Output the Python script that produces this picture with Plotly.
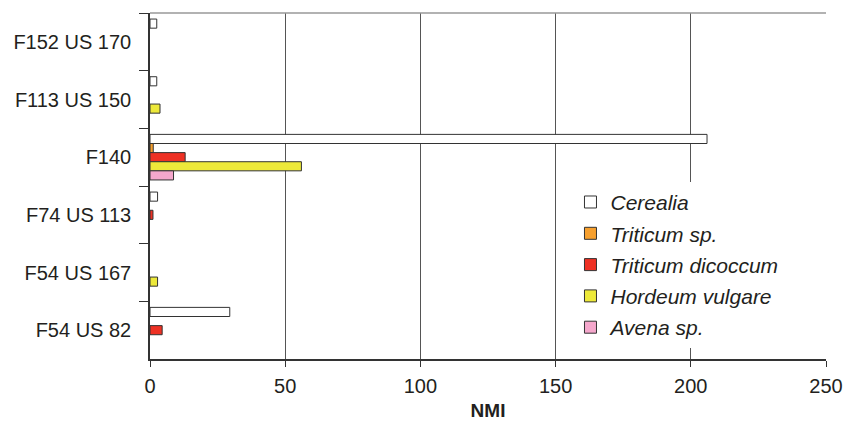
import plotly.graph_objects as go

categories = ["F152 US 170", "F113 US 150", "F140", "F74 US 113", "F54 US 167", "F54 US 82"]
series_names = ["Cerealia", "Triticum sp.", "Triticum dicoccum", "Hordeum vulgare", "Avena sp."]
cerealia = [2.5, 2.5, 206, 2.8, None, 29.5]
triticum_sp = [None, None, 1.2, None, None, None]
triticum_dicoccum = [None, None, 13, 1.1, None, 4.5]
hordeum_vulgare = [None, 3.7, 56, None, 2.8, None]
avena_sp = [None, None, 8.7, None, None, None]
colors = ["#FFFFFF", "#F7A02E", "#EE3124", "#EDE93A", "#F5A7CC"]
x_ticks = [0, 50, 100, 150, 200, 250]

values = [cerealia, triticum_sp, triticum_dicoccum, hordeum_vulgare, avena_sp]

fig = go.Figure()
for name, vals, col in zip(series_names, values, colors):
    fig.add_trace(go.Bar(
        y=categories, x=vals, name=name, orientation="h",
        marker=dict(color=col, line=dict(color="#333333", width=1)),
        legendgroup=name,
    ))

font_family = "Liberation Sans, Arial, sans-serif"
fig.update_layout(
    width=844, height=421,
    margin=dict(l=150, r=18, t=13, b=62, autoexpand=False),
    paper_bgcolor="white", plot_bgcolor="white",
    barmode="group", bargap=0.21, bargroupgap=0,
    font=dict(family=font_family, size=20, color="#231F20"),
    showlegend=True,
    legend=dict(
        x=0.622, y=0.512, xanchor="left", yanchor="top",
        bgcolor="white", borderwidth=0,
        font=dict(family=font_family, size=21, color="#231F20", style="italic"),
        tracegroupgap=1,
    ),
    xaxis=dict(
        range=[0, 250], tickvals=x_ticks, ticktext=[str(v) for v in x_ticks],
        showgrid=True, gridcolor="#555555", gridwidth=1,
        zeroline=False, automargin=False,
        showline=True, linecolor="#333333", linewidth=1.5,
        ticks="outside", ticklen=6, tickcolor="#333333",
        tickfont=dict(size=20), ticklabelstandoff=2,
        title=dict(text="<b>NMI</b>", font=dict(size=19), standoff=13),
    ),
    yaxis=dict(
        type="category", autorange="reversed", automargin=False,
        showgrid=False, zeroline=False,
        showline=True, linecolor="#333333", linewidth=1.5,
        ticks="outside", ticklen=9, tickcolor="#333333", tickson="boundaries",
        tickfont=dict(size=20), ticklabelstandoff=13,
    ),
    shapes=[dict(type="line", xref="paper", yref="paper", x0=0, x1=1, y0=1, y1=1,
                 line=dict(color="#999999", width=1.5))],
)

fig.write_html(
    "out.html",
    config={"displayModeBar": False},
    post_script="document.body.style.margin='0';document.body.style.overflow='hidden';",
)
